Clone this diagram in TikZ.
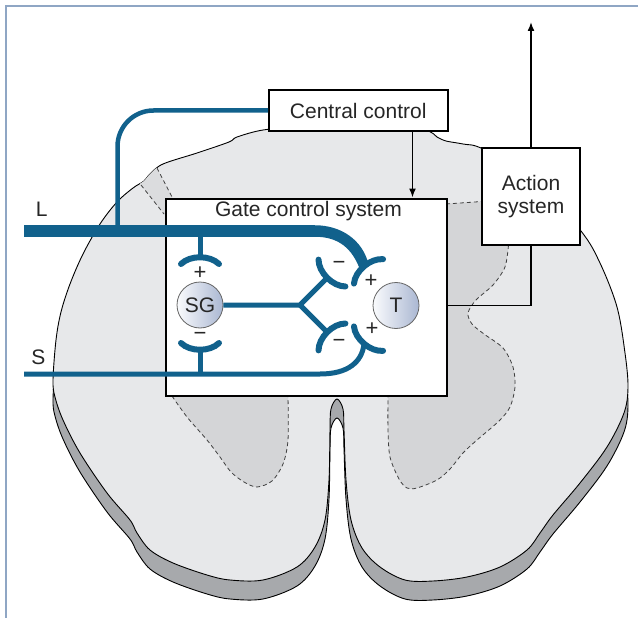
\documentclass[tikz,border=0pt]{standalone}
\usepackage{fontspec}
\setmainfont{Liberation Sans}
\usetikzlibrary{arrows.meta,calc}

\definecolor{fiberblue}{RGB}{17,97,140}
\definecolor{cordface}{RGB}{231,232,234}
\definecolor{cordshadow}{RGB}{167,169,172}
\definecolor{graymatter}{RGB}{212,213,215}
\definecolor{hornstrip}{RGB}{219,220,222}
\definecolor{framecol}{RGB}{143,166,196}
\definecolor{cellhi}{RGB}{250,251,253}
\definecolor{celllo}{RGB}{170,183,210}

% outline of the spinal cord cross-section (dorsal side up)
\newcommand\cordoutline{plot[smooth cycle, tension=0.55] coordinates {
 (53,380) (56,340) (61,312) (70,284) (83,254) (100,224) (117,202) (133,188)
 (144,181) (150,174) (163,164) (197,153) (229,142) (237,137) (263,130)
 (300,127) (360,126) (423,130) (437,137) (446,141) (463,144) (483,149)
 (535,180) (581,231) (600,263) (617,307) (625,353) (628,387) (624,413)
 (607,447) (580,483) (553,515) (540,533) (527,550) (500,567) (467,577)
 (433,581) (405,580) (380,567) (362,548) (351,520) (346,480) (344,430)
 (343,409) (337,399) (331,409) (330,430) (329,480) (325,520) (315,547)
 (297,567) (263,580) (230,580) (207,575) (173,563) (150,550) (137,533)
 (130,520) (107,493) (80,453) (63,420) (55,397)}}

\begin{document}
\begin{tikzpicture}[x=1pt,y=-1pt,
  fiber/.style={draw=fiberblue, line width=5pt},
  box/.style={draw, line width=2pt, fill=white, inner sep=0pt, text=black!85,
    font=\fontsize{21}{23.5}\selectfont, align=center},
  conn/.style={draw=black, line width=1.6pt},
  arrowed/.style={conn, -{Latex[length=9pt,width=7pt]}},
  hornline/.style={draw=black!75, line width=0.8pt, dash pattern=on 4pt off 3pt},
  cell/.style={circle, draw=black!60, line width=0.8pt, minimum size=46pt,
    inner sep=0pt, left color=cellhi, right color=celllo, text=black!85,
    font=\fontsize{21}{21}\selectfont},
  sign/.style={inner sep=0pt, text=black!85, font=\fontsize{22}{22}\selectfont},
  tag/.style={inner sep=0pt, text=black!85, font=\fontsize{21}{21}\selectfont},
  synapse/.pic={\draw[fiber, line width=6pt, line cap=round]
    (7,-19) .. controls (-2,-10) and (-2,10) .. (7,19);}
]
\useasboundingbox (0,0) rectangle (638,618);

% page frame
\draw[framecol, line width=2.4pt] (6,618) -- (6,6) -- (638,6);

% spinal cord: lower rim, then upper face
\filldraw[fill=cordshadow, draw=black, line width=0.9pt, shift={(0,19)}] \cordoutline;
\filldraw[fill=cordface, draw=black, line width=0.9pt] \cordoutline;

% grey matter
\begin{scope}
  \clip \cordoutline;
  \fill[hornstrip] (129.5,170.5) -- (149.5,153.5) -- (176.5,205.7) -- (171,222.7) -- cycle;
  \draw[hornline] (157,168) -- (172,197);
  \draw[hornline] (141,185) -- (164,214);
  \fill[graymatter] (440,204) -- (482,201.5) -- (505,215) -- plot[smooth] coordinates {
    (508.5,245) (505,267) (493,285) (476,300) (468,313) (472,324) (484,334)
    (503,348) (513,367) (515,387) (510,407) (499,421) (477,440) (463,453)
    (450,469) (437,480) (417,488) (407,488) (399,479) (390,457) (388,430)
    (388,396)} -- (388,385) -- (440,385) -- cycle;
  \draw[hornline] (446,204) -- (482,201.5);
  \draw[hornline] plot[smooth] coordinates {
    (508.5,245) (505,267) (493,285) (476,300) (468,313) (472,324) (484,334)
    (503,348) (513,367) (515,387) (510,407) (499,421) (477,440) (463,453)
    (450,469) (437,480) (417,488) (407,488) (399,479) (390,457) (388,430)
    (388,396)};
  \fill[graymatter] (172,385) -- plot[smooth] coordinates {
    (172,396) (187,417) (207,440) (220,457) (231,472) (244,482) (257,487)
    (272,481) (283,464) (288,440) (288,396)} -- (288,385) -- cycle;
  \draw[hornline] plot[smooth] coordinates {
    (172,396) (187,417) (207,440) (220,457) (231,472) (244,482) (257,487)
    (272,481) (283,464) (288,440) (288,396)};
\end{scope}

% boxes
\node[box, minimum width=178.5pt, minimum height=41pt] (cc) at (358.25,110.5) {Central control};
\node[box, minimum width=281pt, minimum height=197.5pt] (gate) at (306.1,297.25) {};
\node[box, minimum width=98pt, minimum height=97pt] (act) at (531,196.5) {Action\\system};
\node[tag] (gatetitle) at (308.5,211) {Gate control system};

% cells
\node[cell] (SG) at (200,305) {SG};
\node[cell] (T) at (396,305.5) {T};

% control connectors
\coordinate (ccdrop) at (412.5,131);
\coordinate (motor) at (531,22);
\draw[arrowed] (ccdrop) -- (ccdrop |- gate.north);
\draw[arrowed] (act.north) -- (motor);
\draw[conn] (act.south) |- (gate.east |- T);

% afferent fibres
\coordinate (Lin) at (24,231);
\coordinate (Lbend) at (315,231);
\coordinate (Lbranch) at (117.5,231);
\coordinate (Sin) at (24,374);
\coordinate (capSGa) at (200,257);
\coordinate (capSGb) at (200,350);
\coordinate (capLT) at (364,266);
\coordinate (capST) at (364,344);
\coordinate (fork) at (300,305);
\coordinate (capIa) at (327,278);
\coordinate (capIb) at (327,332);

\draw[fiber, line width=4.5pt, rounded corners=36pt] (Lbranch) |- (cc.west);
\draw[fiber, line width=11.5pt] (Lin) -- (Lbend);
\fill[fiberblue] (315,225.25) .. controls (340,225.25) and (363,239) .. (369,266)
  -- (359,267) .. controls (352,250) and (340,236.75) .. (315,236.75) -- cycle;
\draw[fiber] (Sin) -- (320,374) .. controls (348,374) and (362,362) .. (capST);
\draw[fiber] (capSGa |- Lin) -- (capSGa);
\draw[fiber] (capSGb |- Sin) -- (capSGb);

% SG output onto the transmission cell terminals
\draw[fiber, line join=round] (SG.east) -- (fork) -- (capIa);
\draw[fiber] (fork) -- (capIb);

% synaptic terminals
\pic[rotate=-90] at (capSGa) {synapse};
\pic[rotate=90] at (capSGb) {synapse};
\pic[rotate=-50] at (capLT) {synapse};
\pic[rotate=50] at (capST) {synapse};
\pic[rotate=45] at (capIa) {synapse};
\pic[rotate=-45] at (capIb) {synapse};

% signs
\node[sign] (s1) at (200,273) {+};
\node[sign] (s2) at (200,336) {−};
\node[sign] (s3) at (339,265) {−};
\node[sign] (s4) at (371,281) {+};
\node[sign] (s5) at (372,329) {+};
\node[sign] (s6) at (339,343) {−};

% fibre labels
\node[tag] (Llab) at (41.7,209) {L};
\node[tag] (Slab) at (38.3,357) {S};
\end{tikzpicture}
\end{document}
